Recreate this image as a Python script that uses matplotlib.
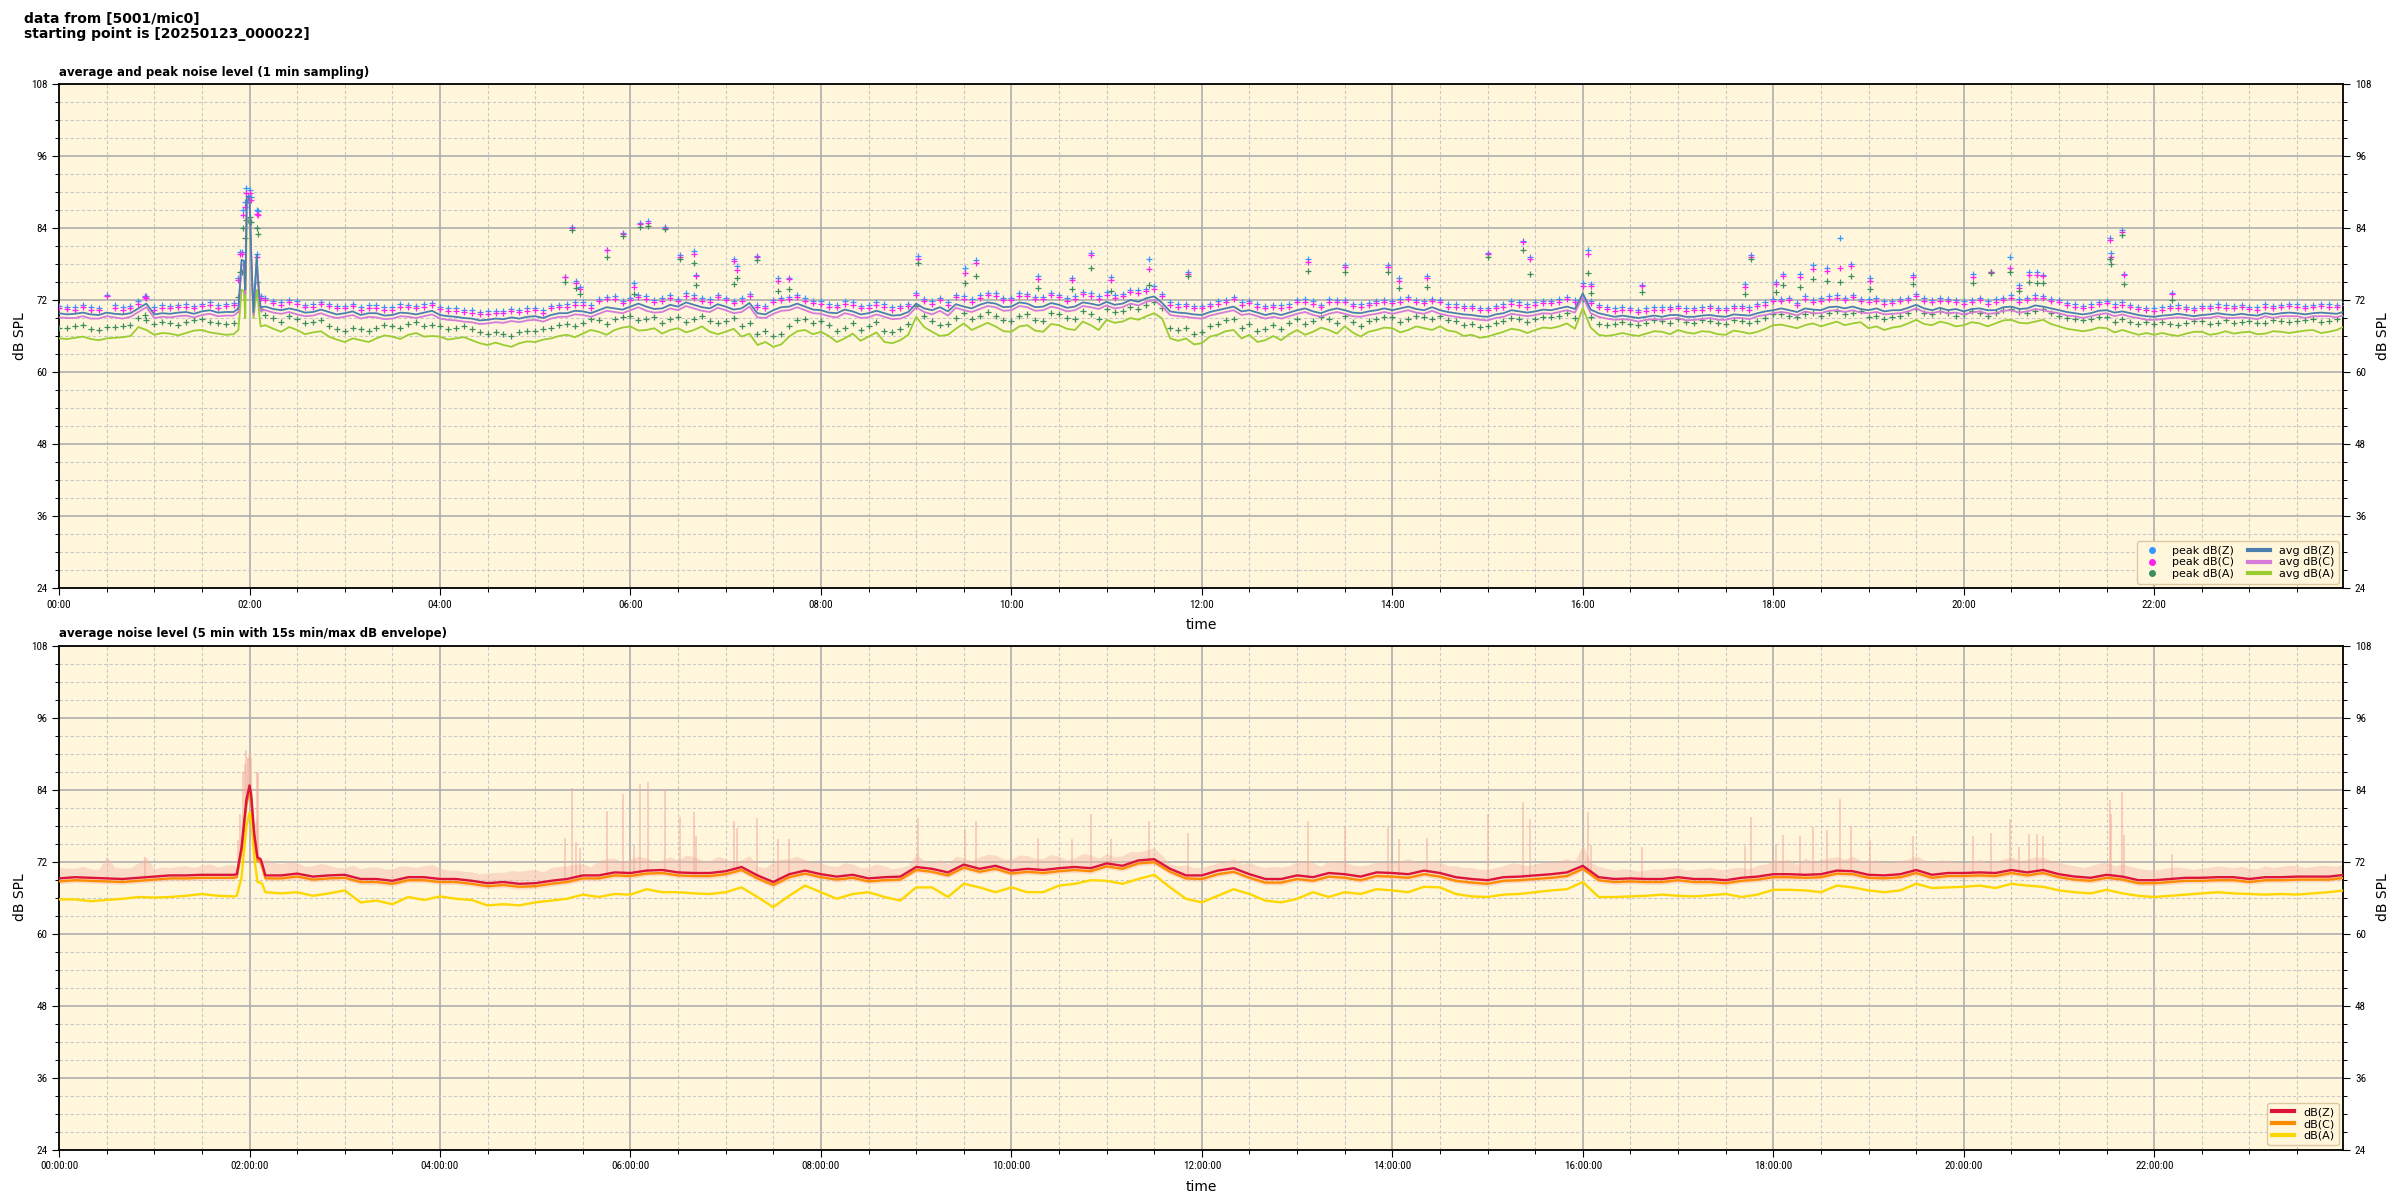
import numpy as np
import matplotlib
matplotlib.use("Agg")
import matplotlib.pyplot as plt
from matplotlib import font_manager
from matplotlib.ticker import MultipleLocator, FuncFormatter
from matplotlib.lines import Line2D

# ---------------- data (minutes after 00:00, dB SPL) ----------------
# 10-minute grid 0..1440 (145 samples)
avg_z = [69.8, 69.7, 69.6, 69.9, 69.6, 70.6, 69.6, 69.7, 70.0, 70.1, 69.9, 70.0,
         89.2, 70.9, 70.3, 70.3, 70.0, 70.0, 69.8, 69.5, 69.8, 69.5, 69.8, 69.9,
         69.5, 69.2, 68.9, 68.7, 68.8, 68.9, 69.3, 69.5, 69.8, 70.1, 70.3, 70.6,
         70.9, 70.9, 70.6, 70.9, 71.2, 70.6, 70.9, 70.6, 69.8, 70.3, 70.9, 70.9,
         70.3, 69.8, 70.1, 69.8, 69.8, 69.5, 71.4, 70.3, 70.1, 70.9, 71.2, 71.4,
         70.9, 71.4, 70.9, 71.2, 70.9, 71.4, 71.7, 71.4, 71.7, 72.6, 70.1, 69.8,
         69.5, 70.3, 70.9, 70.3, 69.5, 69.5, 70.3, 70.1, 70.3, 70.3, 69.8, 70.3,
         70.3, 70.9, 70.3, 70.3, 69.8, 69.5, 69.2, 69.8, 70.1, 70.1, 70.3, 70.9,
         73.1, 69.8, 69.2, 69.2, 69.2, 69.2, 69.5, 69.2, 69.5, 69.2, 69.5, 69.8,
         70.3, 70.3, 70.6, 70.3, 70.9, 70.9, 70.3, 70.1, 70.3, 71.2, 70.3, 70.3,
         70.1, 70.6, 70.3, 70.9, 70.6, 70.9, 70.3, 69.8, 69.8, 70.3, 70.1, 69.5,
         69.2, 69.5, 69.5, 69.5, 69.8, 69.5, 69.5, 69.8, 69.8, 69.8, 69.8, 69.8,
         70.1]
avg_c = [69.1, 69.0, 68.9, 69.3, 68.9, 70.0, 69.0, 69.1, 69.4, 69.5, 69.3, 69.4,
         88.5, 70.3, 69.7, 69.6, 69.4, 69.3, 69.2, 68.9, 69.1, 68.9, 69.2, 69.3,
         68.9, 68.6, 68.3, 68.1, 68.2, 68.3, 68.7, 68.9, 69.2, 69.5, 69.7, 70.0,
         70.3, 70.2, 70.0, 70.3, 70.6, 70.0, 70.3, 70.0, 69.1, 69.7, 70.3, 70.3,
         69.7, 69.1, 69.5, 69.1, 69.2, 68.9, 70.8, 69.6, 69.4, 70.3, 70.5, 70.8,
         70.3, 70.8, 70.3, 70.6, 70.3, 70.8, 71.1, 70.8, 71.1, 72.0, 69.5, 69.2,
         68.9, 69.7, 70.3, 69.7, 68.9, 68.9, 69.7, 69.5, 69.7, 69.7, 69.2, 69.7,
         69.7, 70.3, 69.7, 69.7, 69.2, 68.9, 68.6, 69.2, 69.5, 69.5, 69.7, 70.3,
         72.5, 69.2, 68.7, 68.7, 68.7, 68.7, 69.0, 68.7, 69.0, 68.7, 69.0, 69.3,
         69.8, 69.8, 70.1, 69.8, 70.3, 70.3, 69.8, 69.6, 69.8, 70.6, 69.8, 69.8,
         69.6, 70.1, 69.8, 70.3, 70.1, 70.3, 69.8, 69.3, 69.3, 69.8, 69.6, 69.0,
         68.7, 69.0, 69.0, 69.0, 69.3, 69.0, 69.0, 69.3, 69.3, 69.3, 69.3, 69.3,
         69.6]
avg_a = [65.6, 65.7, 65.5, 65.6, 65.8, 67.5, 66.2, 66.4, 66.5, 67.0, 66.4, 66.3,
         85.3, 67.8, 66.7, 67.0, 66.6, 65.9, 65.0, 65.3, 65.6, 65.9, 66.2, 65.9,
         65.9, 65.6, 65.3, 64.5, 64.5, 64.8, 65.0, 65.6, 66.2, 66.4, 66.7, 67.0,
         67.6, 67.0, 66.4, 67.3, 67.0, 66.7, 66.7, 65.9, 64.5, 64.2, 65.9, 67.0,
         66.7, 65.0, 66.4, 65.9, 65.0, 65.3, 69.2, 66.7, 66.2, 68.1, 67.6, 67.6,
         66.7, 67.8, 66.7, 67.8, 67.0, 67.8, 68.7, 68.4, 68.7, 69.8, 65.6, 65.6,
         64.8, 66.2, 67.0, 66.2, 65.3, 65.3, 67.0, 66.7, 67.0, 67.6, 65.9, 67.0,
         67.3, 67.0, 67.3, 67.6, 66.7, 66.2, 65.9, 66.7, 67.0, 67.0, 67.3, 68.1,
         70.6, 66.2, 66.2, 66.2, 66.4, 66.7, 67.0, 66.4, 66.7, 66.2, 66.7, 66.7,
         67.8, 67.6, 67.8, 67.6, 68.4, 68.1, 67.3, 67.0, 67.6, 68.7, 67.8, 68.1,
         67.8, 68.1, 68.1, 68.7, 68.1, 68.7, 67.6, 67.0, 67.0, 67.3, 67.0, 66.2,
         66.2, 66.2, 66.4, 66.7, 66.4, 66.4, 66.7, 66.4, 66.7, 66.7, 67.0, 66.7,
         67.6]
peak_z = [71.0, 70.9, 70.8, 72.9, 70.9, 71.8, 70.8, 71.0, 71.3, 71.4, 71.1, 71.5,
          90.4, 72.4, 71.6, 71.8, 71.3, 71.4, 71.0, 70.8, 71.1, 70.8, 71.2, 71.3,
          70.9, 70.6, 70.3, 70.1, 70.2, 70.4, 70.7, 71.0, 71.3, 71.6, 72.2, 72.6,
          72.4, 72.6, 72.3, 72.2, 72.8, 72.1, 72.4, 72.3, 71.2, 72.0, 72.5, 72.3,
          71.8, 71.2, 71.6, 71.1, 71.3, 71.0, 73.2, 71.8, 71.6, 72.6, 72.8, 73.1,
          72.4, 73.0, 72.5, 72.9, 72.6, 73.1, 73.3, 73.0, 73.6, 74.3, 71.6, 71.4,
          71.0, 71.8, 72.5, 71.9, 71.0, 71.1, 72.0, 71.8, 72.1, 72.0, 71.3, 71.9,
          71.9, 72.5, 71.9, 72.0, 71.3, 71.0, 70.7, 71.3, 71.6, 71.6, 71.9, 72.5,
          74.8, 71.2, 70.6, 70.7, 70.6, 70.8, 71.0, 70.7, 71.0, 70.7, 71.0, 71.4,
          72.2, 72.4, 72.6, 72.3, 72.8, 72.9, 72.1, 71.8, 72.2, 73.0, 72.0, 72.2,
          71.8, 72.4, 72.1, 72.8, 72.4, 72.7, 72.0, 71.3, 71.3, 71.9, 71.6, 70.9,
          70.6, 71.0, 70.9, 71.0, 71.3, 71.0, 70.9, 71.3, 71.2, 71.3, 71.2, 71.3,
          71.6]
peak_c = [70.6, 70.4, 70.3, 72.6, 70.4, 71.3, 70.4, 70.6, 70.9, 71.0, 70.7, 71.1,
          89.8, 72.0, 71.2, 71.3, 70.9, 71.0, 70.6, 70.4, 70.7, 70.4, 70.8, 70.9,
          70.5, 70.2, 69.9, 69.7, 69.8, 70.0, 70.3, 70.6, 70.9, 71.2, 71.8, 72.2,
          72.0, 72.2, 71.9, 71.8, 72.4, 71.7, 72.0, 71.9, 70.8, 71.6, 72.1, 71.9,
          71.4, 70.8, 71.2, 70.7, 70.9, 70.6, 72.8, 71.4, 71.2, 72.2, 72.4, 72.7,
          72.0, 72.6, 72.1, 72.5, 72.2, 72.7, 72.9, 72.6, 73.2, 73.9, 71.2, 71.0,
          70.6, 71.4, 72.1, 71.5, 70.6, 70.7, 71.6, 71.4, 71.7, 71.6, 70.9, 71.5,
          71.5, 72.1, 71.5, 71.6, 70.9, 70.6, 70.3, 70.9, 71.2, 71.2, 71.5, 72.1,
          74.4, 70.8, 70.2, 70.3, 70.2, 70.4, 70.6, 70.3, 70.6, 70.3, 70.6, 71.0,
          71.8, 72.0, 72.2, 71.9, 72.4, 72.5, 71.7, 71.4, 71.8, 72.6, 71.6, 71.8,
          71.4, 72.0, 71.7, 72.4, 72.0, 72.3, 71.6, 70.9, 70.9, 71.5, 71.2, 70.5,
          70.2, 70.6, 70.5, 70.6, 70.9, 70.6, 70.5, 70.9, 70.8, 70.9, 70.8, 70.9,
          71.2]
peak_a = [67.4, 67.6, 67.2, 67.5, 67.7, 69.0, 68.0, 68.2, 68.3, 68.8, 68.2, 68.1,
          85.8, 69.5, 68.4, 68.8, 68.4, 67.7, 66.9, 67.1, 67.4, 67.7, 68.0, 67.7,
          67.7, 67.4, 67.1, 66.4, 66.3, 66.6, 66.8, 67.4, 68.0, 68.2, 68.6, 68.8,
          69.4, 68.8, 68.2, 69.1, 68.8, 68.5, 68.5, 67.7, 66.4, 66.0, 67.7, 68.8,
          68.5, 66.8, 68.2, 67.7, 66.8, 67.1, 71.0, 68.5, 68.0, 69.9, 69.4, 69.4,
          68.5, 69.6, 68.5, 69.6, 68.8, 69.6, 70.5, 70.2, 70.5, 71.6, 67.4, 67.4,
          66.6, 68.0, 68.8, 68.0, 67.1, 67.1, 68.8, 68.5, 68.8, 69.4, 67.7, 68.8,
          69.1, 68.8, 69.1, 69.4, 68.5, 68.0, 67.7, 68.5, 68.8, 68.8, 69.1, 69.9,
          72.2, 68.0, 68.0, 68.0, 68.2, 68.5, 68.8, 68.2, 68.5, 68.0, 68.5, 68.5,
          69.6, 69.4, 69.6, 69.4, 70.2, 69.9, 69.1, 68.8, 69.4, 70.5, 69.6, 69.9,
          69.6, 69.9, 69.9, 70.5, 69.9, 70.5, 69.4, 68.8, 68.8, 69.1, 68.8, 68.0,
          68.0, 68.0, 68.2, 68.5, 68.2, 68.2, 68.5, 68.2, 68.5, 68.5, 68.8, 68.5,
          69.4]

# half-step samples t = 5, 15, ..., 1435 (144 samples)
avg_z_mid = [69.6, 69.9, 69.5, 69.7, 69.8, 71.4, 69.8, 69.9, 69.7, 70.3, 70.0, 78.7,
             77.0, 70.5, 70.6, 69.9, 70.4, 69.6, 70.1, 69.8, 69.4, 69.9, 69.6, 70.2,
             69.3, 69.0, 68.6, 68.9, 69.1, 69.2, 69.0, 69.8, 70.2, 69.8, 70.8, 70.4,
             71.4, 70.5, 71.2, 71.6, 70.8, 71.3, 70.4, 71.5, 69.6, 70.8, 71.4, 70.4,
             69.9, 70.4, 69.6, 70.2, 69.4, 70.0, 70.6, 70.8, 71.3, 70.6, 71.6, 70.8,
             71.6, 70.8, 71.5, 70.7, 71.6, 71.1, 71.2, 72.0, 72.3, 71.5, 69.9, 69.6,
             70.0, 70.6, 70.1, 69.9, 69.8, 69.9, 70.6, 69.8, 70.6, 69.9, 70.1, 70.6,
             70.6, 70.5, 70.8, 70.0, 69.6, 69.3, 69.6, 70.3, 69.9, 70.4, 70.6, 70.5,
             70.4, 69.5, 69.4, 69.0, 69.4, 69.5, 69.2, 69.4, 69.3, 69.6, 69.4, 70.1,
             70.6, 70.0, 70.4, 70.8, 70.6, 70.5, 70.6, 70.3, 70.7, 70.6, 70.7, 70.5,
             70.5, 70.3, 70.8, 70.5, 71.1, 70.6, 70.0, 69.6, 70.2, 69.9, 69.8, 69.3,
             69.4, 69.7, 69.3, 69.6, 69.6, 69.7, 69.4, 69.6, 69.9, 69.6, 69.9, 69.7]
avg_c_mid = [69.0, 69.3, 68.9, 69.1, 69.2, 70.8, 69.2, 69.3, 69.1, 69.7, 69.4, 78.0,
             76.4, 69.9, 70.0, 69.3, 69.8, 69.0, 69.5, 69.2, 68.8, 69.3, 69.0, 69.6,
             68.7, 68.4, 68.0, 68.3, 68.5, 68.6, 68.4, 69.2, 69.6, 69.2, 70.2, 69.8,
             70.8, 69.9, 70.6, 71.0, 70.2, 70.7, 69.8, 70.9, 69.0, 70.2, 70.8, 69.8,
             69.3, 69.8, 69.0, 69.6, 68.8, 69.4, 70.0, 70.2, 70.7, 70.0, 71.0, 70.2,
             71.0, 70.2, 70.9, 70.1, 71.0, 70.5, 70.6, 71.4, 71.7, 70.9, 69.3, 69.0,
             69.4, 70.0, 69.5, 69.3, 69.2, 69.3, 70.0, 69.2, 70.0, 69.3, 69.5, 70.0,
             70.0, 69.9, 70.2, 69.4, 69.0, 68.7, 69.0, 69.7, 69.3, 69.8, 70.0, 69.9,
             69.8, 68.9, 68.8, 68.4, 68.8, 68.9, 68.6, 68.8, 68.7, 69.0, 68.8, 69.5,
             70.0, 69.4, 69.8, 70.2, 70.0, 69.9, 70.0, 69.7, 70.1, 70.0, 70.1, 69.9,
             69.9, 69.7, 70.2, 69.9, 70.5, 70.0, 69.4, 69.0, 69.6, 69.3, 69.2, 68.7,
             68.8, 69.1, 68.7, 69.0, 69.0, 69.1, 68.8, 69.0, 69.3, 69.0, 69.3, 69.1]
avg_a_mid = [65.5, 65.9, 65.3, 65.7, 66.0, 67.0, 66.5, 66.1, 66.9, 66.6, 66.2, 73.7,
             73.0, 67.2, 67.5, 66.3, 66.8, 65.4, 65.6, 65.0, 66.1, 65.5, 66.5, 66.0,
             65.4, 65.8, 64.8, 64.9, 64.2, 65.1, 65.4, 66.0, 65.8, 67.0, 66.2, 67.4,
             66.9, 67.3, 67.0, 66.6, 67.6, 66.3, 67.2, 66.4, 65.0, 64.6, 66.8, 66.3,
             66.0, 65.6, 65.2, 66.6, 64.8, 66.2, 67.5, 66.0, 67.2, 67.0, 68.2, 66.8,
             67.6, 66.9, 68.0, 67.2, 68.4, 67.0, 68.2, 69.0, 69.3, 68.9, 65.2, 64.6,
             65.9, 66.8, 65.6, 65.0, 66.0, 66.3, 66.2, 67.4, 66.4, 66.6, 66.7, 67.4,
             66.6, 67.6, 67.0, 66.9, 66.0, 65.7, 66.3, 67.2, 66.5, 67.4, 67.6, 67.2,
             67.4, 66.0, 66.5, 66.0, 66.8, 66.3, 66.6, 66.8, 66.3, 66.9, 66.4, 67.2,
             67.9, 67.3, 68.1, 68.0, 67.8, 68.3, 67.6, 67.4, 68.1, 68.0, 68.4, 67.6,
             68.3, 67.6, 68.6, 68.2, 68.4, 68.0, 67.2, 66.8, 67.4, 66.6, 66.6, 66.5,
             66.5, 66.0, 66.7, 66.2, 66.8, 66.6, 66.3, 66.8, 66.5, 66.9, 66.5, 67.0]
peak_z_mid = [70.9, 71.2, 70.7, 71.1, 71.0, 72.7, 71.1, 71.2, 71.0, 71.6, 71.4, 80.0,
              79.7, 71.9, 72.0, 71.2, 71.7, 71.0, 71.4, 71.1, 70.8, 71.3, 71.0, 71.5,
              70.6, 70.4, 70.0, 70.2, 70.5, 70.6, 70.3, 71.2, 71.6, 71.1, 72.5, 71.9,
              72.9, 72.0, 72.8, 73.1, 72.3, 72.9, 71.9, 73.0, 71.0, 72.4, 72.9, 71.9,
              71.3, 71.8, 71.0, 71.6, 70.8, 71.4, 72.2, 72.4, 72.9, 72.1, 73.2, 72.4,
              73.1, 72.5, 73.2, 72.3, 73.4, 72.6, 72.8, 73.7, 73.9, 73.0, 71.3, 71.0,
              71.4, 72.0, 71.6, 71.3, 71.2, 71.3, 72.1, 71.2, 72.0, 71.4, 71.5, 72.0,
              72.1, 72.0, 72.2, 71.3, 71.0, 70.7, 71.0, 71.8, 71.3, 71.9, 72.1, 72.0,
              71.9, 70.9, 70.8, 70.4, 70.8, 70.9, 70.6, 70.8, 70.7, 71.0, 70.8, 71.6,
              72.2, 71.5, 72.0, 72.6, 72.4, 72.2, 72.3, 71.9, 72.4, 72.3, 72.3, 72.0,
              72.0, 71.8, 72.4, 72.1, 72.8, 72.2, 71.5, 71.0, 71.7, 71.3, 71.2, 70.7,
              70.8, 71.1, 70.7, 71.0, 71.1, 71.2, 70.8, 71.0, 71.4, 71.0, 71.4, 71.2]
peak_c_mid = [70.5, 70.8, 70.3, 70.7, 70.6, 72.3, 70.7, 70.8, 70.6, 71.2, 71.0, 79.6,
              79.2, 71.5, 71.6, 70.8, 71.3, 70.6, 71.0, 70.7, 70.4, 70.9, 70.6, 71.1,
              70.2, 70.0, 69.6, 69.8, 70.1, 70.2, 69.9, 70.8, 71.2, 70.7, 72.1, 71.5,
              72.5, 71.6, 72.4, 72.7, 71.9, 72.5, 71.5, 72.6, 70.6, 72.0, 72.5, 71.5,
              70.9, 71.4, 70.6, 71.2, 70.4, 71.0, 71.8, 72.0, 72.5, 71.7, 72.8, 72.0,
              72.7, 72.1, 72.8, 71.9, 73.0, 72.2, 72.4, 73.3, 73.5, 72.6, 70.9, 70.6,
              71.0, 71.6, 71.2, 70.9, 70.8, 70.9, 71.7, 70.8, 71.6, 71.0, 71.1, 71.6,
              71.7, 71.6, 71.8, 70.9, 70.6, 70.3, 70.6, 71.4, 70.9, 71.5, 71.7, 71.6,
              71.5, 70.5, 70.4, 70.0, 70.4, 70.5, 70.2, 70.4, 70.3, 70.6, 70.4, 71.2,
              71.8, 71.1, 71.6, 72.2, 72.0, 71.8, 71.9, 71.5, 72.0, 71.9, 71.9, 71.6,
              71.6, 71.4, 72.0, 71.7, 72.4, 71.8, 71.1, 70.6, 71.3, 70.9, 70.8, 70.3,
              70.4, 70.7, 70.3, 70.6, 70.7, 70.8, 70.4, 70.6, 71.0, 70.6, 71.0, 70.8]
peak_a_mid = [67.3, 67.8, 67.0, 67.5, 67.9, 68.7, 68.3, 67.8, 68.7, 68.4, 68.0, 76.7,
              75.0, 69.0, 69.3, 68.1, 68.6, 67.2, 67.4, 66.8, 67.9, 67.3, 68.3, 67.8,
              67.2, 67.6, 66.6, 66.7, 66.0, 66.9, 67.2, 67.8, 67.6, 68.8, 68.0, 69.2,
              68.7, 69.1, 68.8, 68.4, 69.4, 68.1, 69.0, 68.2, 66.8, 66.4, 68.6, 68.1,
              67.8, 67.4, 67.0, 68.4, 66.6, 68.0, 69.3, 67.8, 69.0, 68.8, 70.0, 68.6,
              69.4, 68.7, 69.8, 69.0, 70.2, 68.8, 70.0, 70.8, 71.1, 70.7, 67.0, 66.4,
              67.7, 68.6, 67.4, 66.8, 67.8, 68.1, 68.0, 69.2, 68.2, 68.4, 68.5, 69.2,
              68.4, 69.4, 68.8, 68.7, 67.8, 67.5, 68.1, 69.0, 68.3, 69.2, 69.4, 69.0,
              69.2, 67.8, 68.3, 67.8, 68.6, 68.1, 68.4, 68.6, 68.1, 68.7, 68.2, 69.0,
              69.7, 69.1, 69.9, 69.8, 69.6, 70.1, 69.4, 69.2, 69.9, 69.8, 70.2, 69.4,
              70.1, 69.4, 70.4, 70.0, 70.2, 69.8, 69.0, 68.6, 69.2, 68.4, 68.4, 68.3,
              68.3, 67.8, 68.5, 68.0, 68.6, 68.4, 68.1, 68.6, 68.3, 68.7, 68.3, 68.8]

# detail of the 02:00 event (1-min averages)
ev_t = [113, 116.5, 117.3, 118.3, 121.5, 122.5, 124.6, 126, 127]
ev_z = [70.6, 78.5, 73.7, 89.2, 76.4, 70.0, 79.5, 73.3, 70.8]
ev_c = [70.0, 77.8, 73.0, 88.5, 75.8, 69.5, 79.0, 72.8, 70.2]
ev_a = [67.0, 73.5, 69.0, 85.7, 76.0, 69.0, 73.7, 70.0, 67.6]

# isolated loud peaks (time, Z, C, A)
out_t = [113, 114, 116, 117, 118, 119, 121, 124.5, 125.5, 127, 54, 319, 323, 326, 328,
         345, 355, 362, 366, 371, 382, 391, 400, 401, 425, 427, 440, 453, 460,
         541, 571, 578, 617, 638, 650, 663, 687, 711, 787, 810, 837, 844, 862,
         900, 922, 927, 963, 965, 997, 1062, 1066, 1082, 1086, 1097, 1105, 1114,
         1122, 1129, 1141, 1168, 1206, 1217, 1229, 1235, 1241, 1246, 1250, 1292,
         1293, 1300, 1301, 1331]
out_z = [75.6, 80.0, 87.0, 88.3, 90.6, 89.3, 89.2, 87.0, 86.8, 72.6, 72.7, 75.9, 84.2, 75.2, 74.2,
         80.4, 83.2, 74.8, 84.9, 85.2, 84.1, 79.5, 80.2, 76.2, 78.8, 77.6, 79.3, 75.7, 75.7,
         79.3, 77.4, 78.7, 76.0, 75.7, 79.9, 75.8, 78.8, 76.7, 78.8, 77.8, 77.8, 75.7, 76.0,
         79.9, 81.9, 79.1, 80.3, 74.7, 74.5, 74.6, 79.5, 75.0, 76.4, 76.3, 77.8, 77.3,
         82.4, 78.0, 75.6, 76.2, 76.3, 76.7, 79.1, 74.5, 76.6, 76.6, 76.2, 82.3,
         79.9, 83.6, 76.4, 73.2]
out_c = [75.3, 79.6, 86.2, 87.5, 89.8, 88.6, 88.6, 86.4, 86.1, 72.4, 72.5, 75.8, 84.0, 74.8, 73.8,
         80.3, 83.0, 74.2, 84.6, 84.9, 84.0, 79.2, 79.6, 76.0, 78.5, 77.0, 79.1, 75.2, 75.5,
         78.9, 76.5, 78.2, 75.5, 75.3, 79.5, 75.3, 77.2, 76.4, 78.3, 77.5, 77.5, 75.2, 75.6,
         79.6, 81.6, 78.8, 79.6, 74.4, 74.3, 74.2, 79.2, 74.6, 76.0, 75.8, 77.2, 76.8,
         77.3, 77.6, 75.2, 75.8, 75.8, 76.6, 77.4, 74.0, 76.2, 76.1, 76.0, 82.0,
         79.2, 83.4, 76.1, 73.0]
out_a = [72.5, 76.7, 84.0, 82.3, 85.3, 85.3, 85.0, 84.0, 83.0, 70.5, 69.5, 75.0, 83.7, 74.0, 73.0,
         79.1, 82.6, 73.0, 84.1, 84.3, 83.9, 78.8, 78.1, 74.5, 74.6, 75.6, 78.6, 73.5, 73.8,
         78.1, 74.9, 76.0, 74.0, 73.8, 77.4, 73.5, 74.5, 76.0, 76.9, 76.7, 76.6, 74.0, 74.2,
         79.2, 80.4, 76.3, 76.5, 73.2, 73.3, 73.0, 78.9, 73.4, 74.5, 74.1, 75.5, 75.2,
         75.0, 76.0, 73.8, 74.6, 74.8, 76.5, 76.6, 73.5, 75.0, 74.8, 74.8, 78.9,
         78.0, 82.8, 74.6, 72.0]

# 5-minute averages (lower panel), 10-minute grid 0..1440
lev_z = [69.2, 69.4, 69.3, 69.2, 69.1, 69.3, 69.5, 69.7, 69.7, 69.8, 69.8, 69.8,
         84.7, 69.7, 69.7, 70.0, 69.5, 69.7, 69.8, 69.1, 69.1, 68.8, 69.4, 69.4,
         69.1, 69.1, 68.8, 68.4, 68.6, 68.3, 68.4, 68.8, 69.1, 69.7, 69.7, 70.2,
         70.1, 70.5, 70.6, 70.2, 70.1, 70.1, 70.4, 71.1, 69.7, 68.6, 69.9, 70.5,
         69.9, 69.5, 69.8, 69.2, 69.4, 69.5, 71.1, 70.8, 70.2, 71.5, 70.8, 71.3,
         70.5, 70.8, 70.6, 70.9, 71.1, 70.9, 71.7, 71.3, 72.2, 72.4, 70.8, 69.7,
         69.7, 70.5, 70.9, 69.9, 69.1, 69.1, 69.7, 69.4, 70.1, 69.9, 69.5, 70.2,
         70.1, 69.9, 70.5, 70.1, 69.4, 69.1, 68.9, 69.4, 69.5, 69.7, 69.9, 70.2,
         71.3, 69.4, 69.1, 69.2, 69.1, 69.1, 69.4, 69.1, 69.1, 68.9, 69.3, 69.5,
         69.9, 69.9, 69.8, 69.9, 70.5, 70.4, 69.8, 69.7, 69.9, 70.6, 69.8, 70.1,
         70.1, 70.2, 70.1, 70.6, 70.2, 70.6, 69.9, 69.5, 69.3, 69.8, 69.5, 68.9,
         68.9, 69.1, 69.3, 69.3, 69.4, 69.4, 69.1, 69.4, 69.4, 69.5, 69.5, 69.5,
         69.8]
lev_c = [68.7, 68.9, 68.8, 68.7, 68.6, 68.8, 69.0, 69.2, 69.2, 69.3, 69.3, 69.3,
         84.1, 69.2, 69.2, 69.5, 69.0, 69.2, 69.3, 68.6, 68.6, 68.3, 68.9, 68.9,
         68.6, 68.6, 68.3, 67.9, 68.1, 67.8, 67.9, 68.3, 68.6, 69.2, 69.2, 69.7,
         69.6, 70.0, 70.1, 69.7, 69.6, 69.6, 69.9, 70.6, 69.2, 68.1, 69.4, 70.0,
         69.4, 69.0, 69.3, 68.7, 68.9, 69.0, 70.6, 70.3, 69.7, 71.0, 70.3, 70.8,
         70.0, 70.3, 70.1, 70.4, 70.6, 70.4, 71.2, 70.8, 71.7, 71.9, 70.3, 69.2,
         69.1, 69.9, 70.3, 69.3, 68.5, 68.5, 69.1, 68.8, 69.5, 69.3, 68.9, 69.6,
         69.5, 69.3, 69.9, 69.5, 68.8, 68.5, 68.3, 68.8, 68.9, 69.1, 69.3, 69.6,
         70.8, 68.9, 68.6, 68.7, 68.6, 68.6, 68.9, 68.6, 68.6, 68.4, 68.8, 69.0,
         69.4, 69.4, 69.3, 69.4, 70.0, 69.9, 69.3, 69.2, 69.4, 70.1, 69.3, 69.6,
         69.6, 69.7, 69.6, 70.1, 69.7, 70.1, 69.4, 69.0, 68.8, 69.3, 69.0, 68.4,
         68.4, 68.6, 68.8, 68.8, 68.9, 68.9, 68.6, 68.9, 68.9, 69.0, 69.0, 69.0,
         69.3]
lev_a = [65.7, 65.7, 65.4, 65.6, 65.8, 66.1, 66.0, 66.1, 66.3, 66.6, 66.3, 66.2,
         80.2, 66.9, 66.7, 66.9, 66.3, 66.7, 67.2, 65.2, 65.5, 64.9, 66.1, 65.6,
         66.2, 65.8, 65.6, 64.7, 64.9, 64.7, 65.2, 65.5, 65.8, 66.5, 66.1, 66.6,
         66.5, 67.4, 66.9, 66.9, 66.7, 66.6, 66.9, 67.7, 66.1, 64.4, 66.3, 68.0,
         66.9, 65.8, 66.6, 66.9, 66.1, 65.5, 67.7, 67.7, 66.1, 68.3, 67.7, 66.9,
         67.7, 66.9, 66.9, 68.0, 68.3, 68.9, 68.8, 68.3, 69.1, 69.8, 67.7, 65.8,
         65.2, 66.3, 67.4, 66.6, 65.5, 65.2, 65.8, 66.9, 66.1, 66.9, 66.6, 67.4,
         67.2, 66.9, 67.8, 67.7, 66.6, 66.2, 66.1, 66.5, 66.6, 66.9, 67.2, 67.4,
         68.6, 66.1, 66.1, 66.2, 66.3, 66.5, 66.3, 66.2, 66.4, 66.6, 66.1, 66.5,
         67.3, 67.3, 67.2, 66.9, 68.0, 67.7, 67.2, 66.9, 67.2, 68.3, 67.6, 67.7,
         67.8, 68.0, 67.6, 68.3, 68.0, 67.8, 67.2, 66.9, 66.7, 67.3, 66.7, 66.3,
         66.1, 66.3, 66.5, 66.7, 66.9, 66.7, 66.6, 66.5, 66.6, 66.5, 66.7, 66.9,
         67.2]
lev_ev_t = [112, 115, 118, 121, 123, 125, 127, 128]
lev_ev_z = [69.9, 74.4, 82.2, 83.3, 76.6, 72.7, 72.4, 71.6]
lev_ev_c = [69.4, 73.8, 81.3, 82.7, 76.0, 72.2, 71.9, 71.1]
lev_ev_a = [66.3, 69.4, 77.7, 79.4, 72.7, 68.6, 68.5, 68.3]

grid_t = np.arange(0, 1441, 10)
mid_t = np.arange(5, 1440, 10)

# ---------------- helpers ----------------
def merged(*pairs):
    t = np.concatenate([np.asarray(p[0], float) for p in pairs])
    v = np.concatenate([np.asarray(p[1], float) for p in pairs])
    o = np.argsort(t, kind="stable")
    return t[o], v[o]

_avail = {f.name for f in font_manager.fontManager.ttflist}
_cands = ["Liberation Sans Narrow", "DejaVu Sans Condensed", "Roboto Condensed",
          "Open Sans Condensed", "DejaVu Sans"]
tick_font = [c for c in _cands if c in _avail] or ["DejaVu Sans"]

BG = "#fff6dc"

def style_axes(ax, fmt):
    ax.set_facecolor(BG)
    ax.set_xlim(0, 1439)
    ax.set_ylim(24, 108)
    rx = ax.twinx()
    rx.set_ylim(24, 108)
    rx.set_yticks([])
    rx.set_ylabel("dB SPL", fontsize=10, labelpad=24, rotation=90)
    for s in rx.spines.values():
        s.set_visible(False)
    ax.yaxis.set_major_locator(MultipleLocator(12))
    ax.yaxis.set_minor_locator(MultipleLocator(3))
    ax.xaxis.set_major_locator(MultipleLocator(120))
    ax.xaxis.set_minor_locator(MultipleLocator(30))
    ax.xaxis.set_major_formatter(FuncFormatter(fmt))
    ax.grid(which="major", color="#a8a8a8", lw=1.1, ls="-", zorder=0)
    ax.grid(which="minor", color="#c8c8c8", lw=0.8, ls=(0, (3, 2)), zorder=0)
    ax.set_axisbelow(True)
    ax.yaxis.set_ticks_position("both")
    ax.tick_params(axis="y", which="both", left=True, right=True,
                   labelleft=True, labelright=True)
    ax.tick_params(which="major", length=5, width=0.8, labelsize=8)
    ax.tick_params(which="minor", length=3, width=0.7)
    for lab in ax.get_xticklabels() + ax.get_yticklabels():
        lab.set_family(tick_font)
    for lab in ax.yaxis.get_ticklabels(which="major"):
        lab.set_family(tick_font)
    for s in ax.spines.values():
        s.set_linewidth(1.3)
        s.set_color("black")
    ax.set_xlabel("time", fontsize=10, labelpad=6)
    ax.set_ylabel("dB SPL", fontsize=10, labelpad=3)
    return rx

fmt_hm = lambda v, p: "%02d:%02d" % (int(v) // 60, int(v) % 60)
fmt_hms = lambda v, p: "%02d:%02d:00" % (int(v) // 60, int(v) % 60)

fig = plt.figure(figsize=(24, 12), dpi=100)
fig.text(0.01, 0.99, "data from [5001/mic0]\nstarting point is [20250123_000022]",
         fontsize=10, fontweight="bold", va="top", ha="left", linespacing=1.1)

ax1 = fig.add_axes([0.0246, 0.51, 0.9517, 0.42])
ax2 = fig.add_axes([0.0246, 0.042, 0.9517, 0.42])

# ---------------- upper panel ----------------
c_pz, c_pc, c_pa = "#3399ff", "#ff22ee", "#3a8f5c"
c_az, c_ac, c_aa = "#4a7fb0", "#d77ad8", "#9acd32"

for t, v, c in [(grid_t, peak_z, c_pz), (mid_t, peak_z_mid, c_pz), (out_t, out_z, c_pz),
                (grid_t, peak_c, c_pc), (mid_t, peak_c_mid, c_pc), (out_t, out_c, c_pc),
                (grid_t, peak_a, c_pa), (mid_t, peak_a_mid, c_pa), (out_t, out_a, c_pa)]:
    ax1.scatter(t, v, marker="+", s=14, linewidths=0.9, color=c, zorder=3)

ta, za = merged((grid_t, avg_a), (mid_t, avg_a_mid), (ev_t, ev_a))
tc, zc = merged((grid_t, avg_c), (mid_t, avg_c_mid), (ev_t, ev_c))
tz, zz = merged((grid_t, avg_z), (mid_t, avg_z_mid), (ev_t, ev_z))
ax1.plot(ta, za, color=c_aa, lw=1.3, zorder=4)
ax1.plot(tc, zc, color=c_ac, lw=1.3, zorder=4)
ax1.plot(tz, zz, color=c_az, lw=1.3, zorder=4)

style_axes(ax1, fmt_hm)
ax1.set_title("average and peak noise level (1 min sampling)", loc="left",
              fontsize=8.5, fontweight="bold", pad=6)

h1 = [Line2D([], [], ls="", marker="o", ms=4, color=c_pz),
      Line2D([], [], ls="", marker="o", ms=4, color=c_pc),
      Line2D([], [], ls="", marker="o", ms=4, color=c_pa),
      Line2D([], [], color=c_az, lw=3),
      Line2D([], [], color=c_ac, lw=3),
      Line2D([], [], color=c_aa, lw=3)]
l1 = ["peak dB(Z)", "peak dB(C)", "peak dB(A)", "avg dB(Z)", "avg dB(C)", "avg dB(A)"]
leg1 = ax1.legend(h1, l1, loc="lower right", ncol=2, fontsize=8, frameon=True,
                  facecolor=BG, edgecolor="#dcc9a0", framealpha=1,
                  handlelength=2, columnspacing=1.2, borderpad=0.4,
                  labelspacing=0.15, borderaxespad=0.4)
leg1.set_zorder(10)

# ---------------- lower panel ----------------
bz_t, bz = merged((grid_t, lev_z), (lev_ev_t, lev_ev_z))
bc_t, bc = merged((grid_t, lev_c), (lev_ev_t, lev_ev_c))
ba_t, ba = merged((grid_t, lev_a), (lev_ev_t, lev_ev_a))

env_t, env_hi = merged((grid_t, peak_z), (mid_t, peak_z_mid), (ev_t, ev_z))
env_lo = np.interp(env_t, bc_t, bc)
ax2.fill_between(env_t, env_lo - 0.4, np.maximum(env_hi, env_lo),
                 color="#f4b8a8", alpha=0.45, lw=0, zorder=2)
base = np.interp(out_t, bc_t, bc)
ax2.vlines(out_t, base, out_z, color="#f0a898", alpha=0.55, lw=1.3, zorder=2)

ax2.plot(ba_t, ba, color="#ffd700", lw=1.7, zorder=4)
ax2.plot(bc_t, bc, color="#ff8c00", lw=1.7, zorder=4)
ax2.plot(bz_t, bz, color="#dc143c", lw=1.7, zorder=5)

style_axes(ax2, fmt_hms)
ax2.set_title("average noise level (5 min with 15s min/max dB envelope)", loc="left",
              fontsize=8.5, fontweight="bold", pad=6)
h2 = [Line2D([], [], color="#dc143c", lw=3),
      Line2D([], [], color="#ff8c00", lw=3),
      Line2D([], [], color="#ffd700", lw=3)]
leg2 = ax2.legend(h2, ["dB(Z)", "dB(C)", "dB(A)"], loc="lower right", fontsize=8,
                  frameon=True, facecolor=BG, edgecolor="#dcc9a0", framealpha=1,
                  handlelength=2, borderpad=0.4, labelspacing=0.15, borderaxespad=0.4)
leg2.set_zorder(10)

fig.savefig("out.png", dpi=100)
